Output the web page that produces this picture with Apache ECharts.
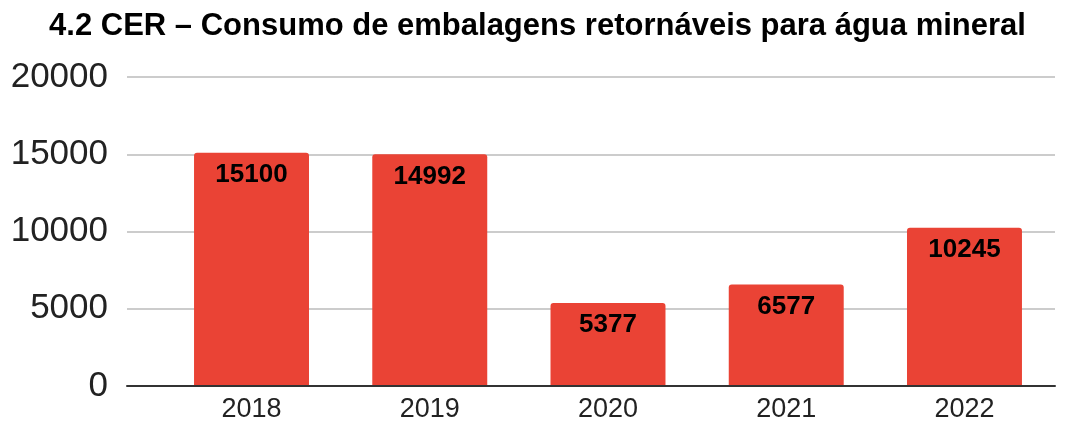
<!DOCTYPE html>
<html lang="pt">
<head>
  <meta charset="UTF-8">
  <title>4.2 CER – Consumo de embalagens retornáveis para água mineral</title>
  <script src="https://cdn.jsdelivr.net/npm/echarts@6/dist/echarts.min.js"></script>
  <style>
    body { margin: 0; padding: 0; background: #fff; }
    #chart { width: 1075px; height: 428px; }
  </style>
</head>
<body>
<div id="chart"></div>
<script>
  // dados
  const years = ['2018', '2019', '2020', '2021', '2022'];
  const consumo = [15100, 14992, 5377, 6577, 10245];
  const yTicks = [0, 5000, 10000, 15000, 20000];

  const chart = echarts.init(document.getElementById('chart'));
  const font = 'Liberation Sans, Arial, sans-serif';

  const option = {
    backgroundColor: '#fff',
    animation: false,
    title: {
      text: '4.2 CER – Consumo de embalagens retornáveis para água mineral',
      left: 'center',
      top: 6,
      textStyle: { fontFamily: font, fontSize: 31, fontWeight: 'bold', color: '#000' }
    },
    grid: [
      // grade de fundo (linhas e eixo)
      { left: 127, right: 20, top: 77, height: 309 },
      // grade das barras
      { left: 162.4, right: 21.4, top: 77, height: 309 }
    ],
    xAxis: [
      {
        gridIndex: 0,
        type: 'category',
        data: years,
        axisLine: { show: true, lineStyle: { color: '#333', width: 2 } },
        axisTick: { show: false },
        axisLabel: { show: false },
        z: 5
      },
      {
        gridIndex: 1,
        type: 'category',
        data: years,
        axisLine: { show: false },
        axisTick: { show: false },
        axisLabel: { fontFamily: font, fontSize: 27, color: '#222', margin: 10 }
      }
    ],
    yAxis: [
      {
        gridIndex: 0,
        type: 'value',
        min: yTicks[0],
        max: yTicks[yTicks.length - 1],
        interval: 5000,
        axisLine: { show: false },
        axisTick: { show: false },
        axisLabel: {
          fontFamily: font, fontSize: 35, color: '#222', margin: 19,
          formatter: v => String(v)
        },
        splitLine: { lineStyle: { color: '#cccccc', width: 2 } }
      },
      {
        gridIndex: 1,
        type: 'value',
        min: yTicks[0],
        max: yTicks[yTicks.length - 1],
        interval: 5000,
        show: false,
        splitLine: { show: false }
      }
    ],
    series: [
      {
        type: 'bar',
        xAxisIndex: 1,
        yAxisIndex: 1,
        data: consumo,
        barWidth: '64.5%',
        itemStyle: { color: '#ea4335', borderRadius: [3, 3, 0, 0] },
        label: {
          show: true,
          position: 'insideTop',
          distance: 9,
          fontFamily: font,
          fontSize: 26,
          fontWeight: 'bold',
          color: '#000'
        }
      }
    ]
  };

  chart.setOption(option);
</script>
</body>
</html>
